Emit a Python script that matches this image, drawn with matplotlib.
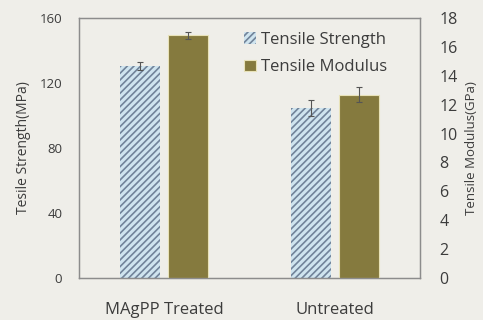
import matplotlib.pyplot as plt
import numpy as np

# values
categories = ['MAgPP Treated', 'Untreated']
strength = [130.5, 104.5]      # MPa, left axis
strength_err = [2.5, 5.0]
modulus = [16.8, 12.7]         # GPa, right axis
modulus_err = [0.25, 0.55]

bg = '#efeee9'
txt = '#3c3c3c'
olive = '#857a3e'

plt.rcParams['font.family'] = ['Open Sans', 'DejaVu Sans']
plt.rcParams['hatch.linewidth'] = 1.2

fig = plt.figure(figsize=(4.83, 3.2), dpi=100, facecolor=bg)
ax = fig.add_axes([0.1636, 0.131, 0.706, 0.813], facecolor=bg)
ax2 = ax.twinx()

x = np.arange(len(categories))
w = 0.235
off = 0.14

b1 = ax.bar(x - off, strength, w, color='#cfe4ef', edgecolor='#71839a',
            hatch='/////', linewidth=0, label='Tensile Strength', zorder=2)
ax.errorbar(x - off, strength, yerr=strength_err, fmt='none', ecolor='#555555',
            elinewidth=0.8, capsize=2, capthick=0.8, zorder=3)
b2 = ax2.bar(x + off, modulus, w, color=olive, edgecolor='#e8e2b8',
             linewidth=0.8, label='Tensile Modulus', zorder=2)
ax2.errorbar(x + off, modulus, yerr=modulus_err, fmt='none', ecolor='#555555',
             elinewidth=0.8, capsize=2, capthick=0.8, zorder=3)

ax.set_xlim(-0.5, 1.5)
ax.set_ylim(0, 160)
ax.set_yticks([0, 40, 80, 120, 160])
ax2.set_ylim(0, 18)
ax2.set_yticks(range(0, 19, 2))

ax.set_xticks(x)
ax.set_xticklabels(categories, fontsize=12, color=txt)
ax.tick_params(axis='x', length=0, pad=17)
ax.tick_params(axis='y', length=0, pad=12, labelsize=9.5, labelcolor=txt)
ax2.tick_params(axis='y', length=0, pad=14, labelsize=11.5, labelcolor=txt)

for a in (ax, ax2):
    for s in a.spines.values():
        s.set_color('#8c8c8c')
        s.set_linewidth(0.9)

ax.set_ylabel('Tesile Strength(MPa)', fontsize=10, color=txt, labelpad=6)
ax2.set_ylabel('Tensile Modulus(GPa)', fontsize=9.5, color=txt, labelpad=5)

ax2.legend([b1, b2], ['Tensile Strength', 'Tensile Modulus'], loc='upper left',
           bbox_to_anchor=(0.44, 1.005), frameon=False, fontsize=12,
           handlelength=0.7, handleheight=0.7, handletextpad=0.3,
           labelspacing=0.7, labelcolor=txt)

fig.savefig('out.png', dpi=100, facecolor=bg)
